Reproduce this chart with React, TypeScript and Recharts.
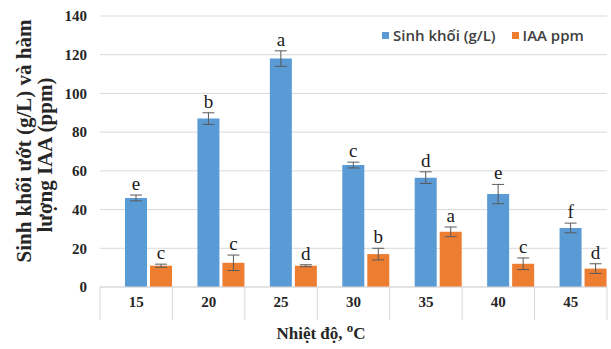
import React from "react";
import {
  Bar,
  BarChart,
  CartesianGrid,
  ErrorBar,
  LabelList,
  Legend,
  XAxis,
  YAxis,
} from "recharts";

const temps = ["15", "20", "25", "30", "35", "40", "45"];
const biomass = [46, 87, 118, 63, 56.5, 48, 30.5];
const biomassErr = [1.5, 3, 4, 1.5, 3, 5, 2.5];
const biomassLetters = ["e", "b", "a", "c", "d", "e", "f"];
const iaa = [11, 12.5, 11, 17, 28.5, 12, 9.5];
const iaaErr = [0.8, 4, 0.5, 3, 2.5, 3, 2.5];
const iaaLetters = ["c", "c", "d", "b", "a", "c", "d"];
const yTicks = [0, 20, 40, 60, 80, 100, 120, 140];
const seriesNames = ["Sinh khối (g/L)", "IAA ppm"];

const data = temps.map((t, i) => ({
  temp: t,
  biomass: biomass[i],
  biomassErr: biomassErr[i],
  iaa: iaa[i],
  iaaErr: iaaErr[i],
}));

const BLUE = "#5B9BD5";
const ORANGE = "#ED7D31";
const GRID = "#d9d9d9";
const TEXT = "#262626";
const SERIF = "'Liberation Serif', 'Times New Roman', serif";

function letterContent(values: number[], errs: number[], letters: string[]) {
  return (props: any) => {
    const { x, y, width, height, index } = props;
    const errPx = (height * errs[index]) / values[index];
    return (
      <text
        x={x + width / 2}
        y={y - errPx - 5}
        textAnchor="middle"
        fontFamily={SERIF}
        fontSize={19}
        fill="#1a1a1a"
      >
        {letters[index]}
      </text>
    );
  };
}

function CategoryTick(props: any) {
  const { x, y, payload, index } = props;
  const half = 36.2;
  return (
    <g>
      {index === 0 && (
        <line x1={x - half} y1={y} x2={x - half} y2={y + 33} stroke={GRID} />
      )}
      <line x1={x + half} y1={y} x2={x + half} y2={y + 33} stroke={GRID} />
      <text
        x={x}
        y={y + 20}
        textAnchor="middle"
        fontFamily={SERIF}
        fontWeight="bold"
        fontSize={15}
        fill={TEXT}
      >
        {payload.value}
      </text>
    </g>
  );
}

function YTitle(props: any) {
  const { viewBox } = props;
  const x0 = viewBox.x;
  const lines = [
    { text: "Sinh khối ướt (g/L) và hàm", x: x0 - 9, y: 141 },
    { text: "lượng IAA (ppm)", x: x0 + 12, y: 155 },
  ];
  return (
    <g>
      {lines.map((l) => (
        <text
          key={l.text}
          x={l.x}
          y={l.y}
          transform={`rotate(-90, ${l.x}, ${l.y})`}
          textAnchor="middle"
          fontFamily={SERIF}
          fontWeight="bold"
          fontSize={21}
          fill={TEXT}
        >
          {l.text}
        </text>
      ))}
    </g>
  );
}

function XTitle(props: any) {
  const { viewBox } = props;
  return (
    <text
      x={viewBox.x + 221}
      y={viewBox.y + 52}
      textAnchor="middle"
      fontFamily={SERIF}
      fontWeight="bold"
      fontSize={17}
      fill={TEXT}
    >
      Nhiệt độ,{" "}
      <tspan fontSize={13} dy={-7}>
        o
      </tspan>
      <tspan dy={7}>C</tspan>
    </text>
  );
}

function LegendContent(props: any) {
  const items = [...(props.payload || [])].sort(
    (a: any, b: any) => seriesNames.indexOf(a.value) - seriesNames.indexOf(b.value)
  );
  return (
    <div style={{ display: "flex", alignItems: "center" }}>
      {items.map((p: any) => (
        <div
          key={p.value}
          style={{ display: "flex", alignItems: "center", marginRight: 16 }}
        >
          <span
            style={{
              width: 7,
              height: 7,
              background: p.color,
              marginRight: 4,
              display: "inline-block",
            }}
          />
          <span
            style={{
              fontFamily: "'Open Sans', sans-serif",
              fontSize: 15,
              fontWeight: 600,
              color: "#404040",
            }}
          >
            {p.value}
          </span>
        </div>
      ))}
    </div>
  );
}

export default function App() {
  return (
    <div style={{ position: "absolute", left: 0, top: 0, background: "#fff" }}>
      <BarChart
        width={611}
        height={349}
        data={data}
        margin={{ top: 16, right: 4, bottom: 27, left: 40 }}
        barGap={3}
        barSize={22}
      >
        <CartesianGrid vertical={false} stroke={GRID} />
        <XAxis
          dataKey="temp"
          height={35}
          axisLine={{ stroke: GRID }}
          tickLine={false}
          tickSize={0}
          tickMargin={0}
          interval={0}
          tick={<CategoryTick />}
          label={<XTitle />}
        />
        <XAxis
          xAxisId="bar"
          dataKey="temp"
          hide
          padding={{ left: 12, right: -12 }}
        />
        <YAxis
          width={60}
          domain={[0, 140]}
          ticks={yTicks}
          axisLine={false}
          tickLine={false}
          tickMargin={7}
          tick={{
            fontFamily: SERIF,
            fontWeight: "bold",
            fontSize: 15,
            fill: TEXT,
          }}
          label={<YTitle />}
        />
        <Legend
          layout="horizontal"
          verticalAlign="middle"
          align="center"
          wrapperStyle={{ top: 25, left: 382, width: 229 }}
          content={<LegendContent />}
        />
        <Bar
          xAxisId="bar"
          dataKey="biomass"
          name={seriesNames[0]}
          fill={BLUE}
          isAnimationActive={false}
        >
          <ErrorBar
            dataKey="biomassErr"
            width={6}
            stroke="#595959"
            strokeWidth={1}
            direction="y"
          />
          <LabelList
            dataKey="biomass"
            content={letterContent(biomass, biomassErr, biomassLetters)}
          />
        </Bar>
        <Bar
          xAxisId="bar"
          dataKey="iaa"
          name={seriesNames[1]}
          fill={ORANGE}
          isAnimationActive={false}
        >
          <ErrorBar
            dataKey="iaaErr"
            width={6}
            stroke="#595959"
            strokeWidth={1}
            direction="y"
          />
          <LabelList
            dataKey="iaa"
            content={letterContent(iaa, iaaErr, iaaLetters)}
          />
        </Bar>
      </BarChart>
    </div>
  );
}
